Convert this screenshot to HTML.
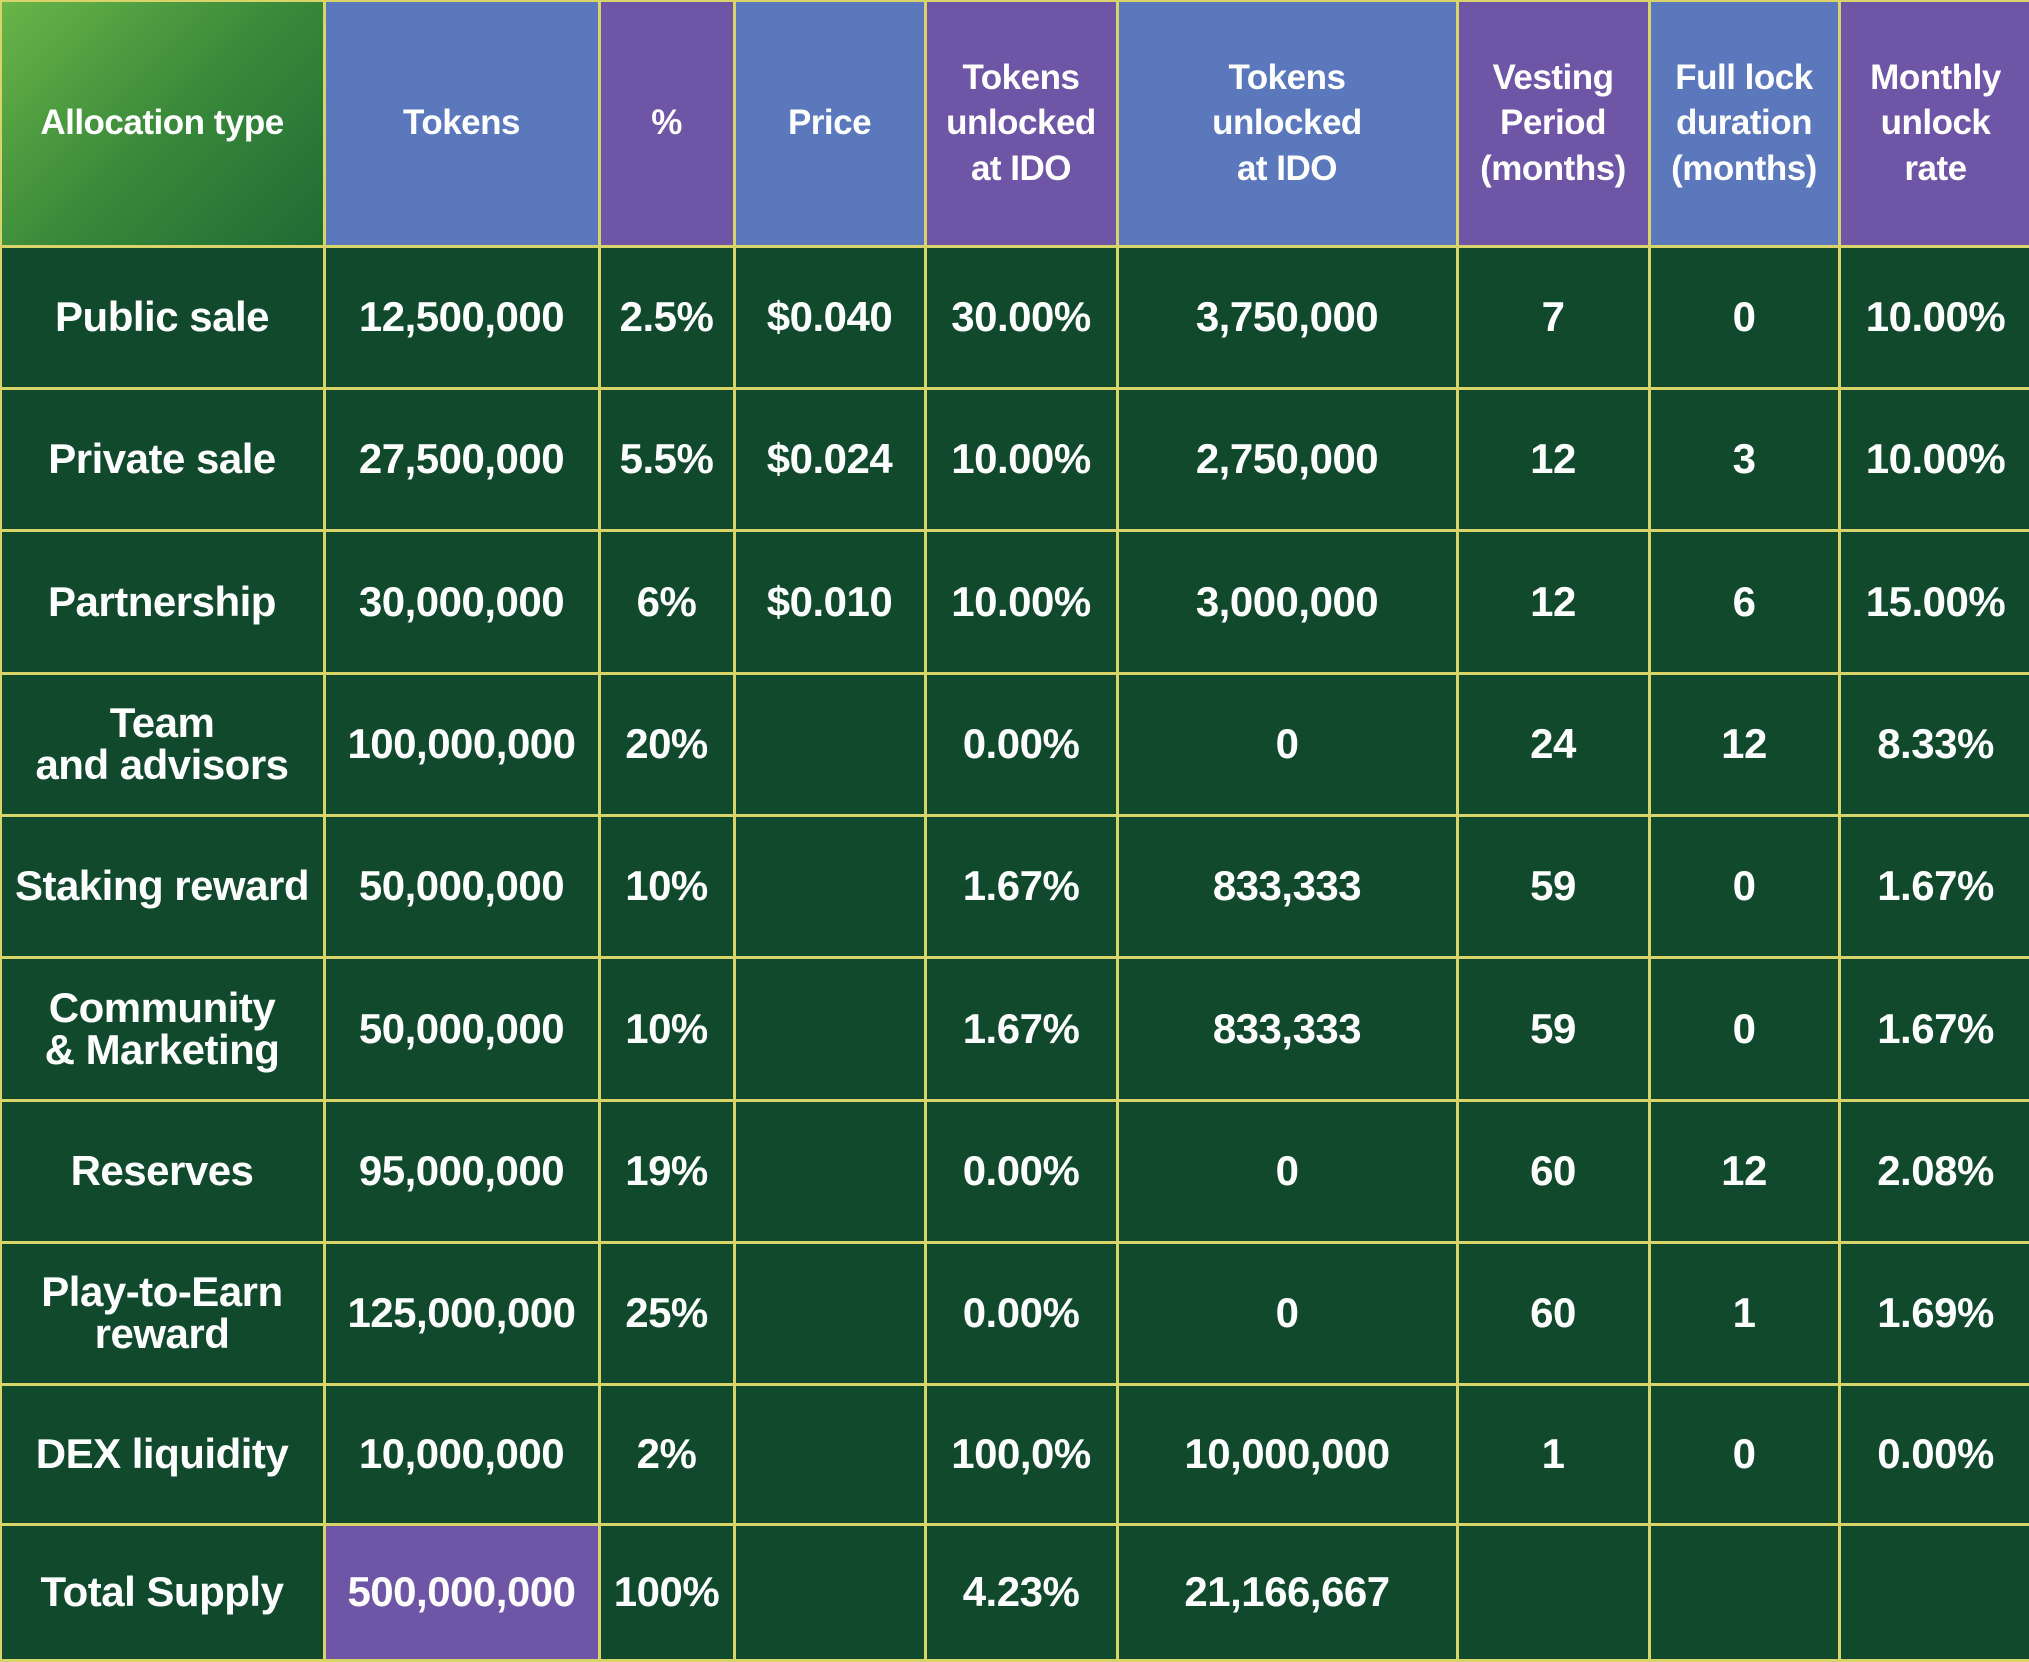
<!DOCTYPE html>
<html><head><meta charset="utf-8"><style>
html,body{margin:0;padding:0;width:2029px;height:1657px;overflow:hidden;background:#10492d}
.c{position:absolute;box-sizing:border-box;border:3px solid #d8d46a;margin:-1.5px;color:#fff;display:flex;align-items:center;justify-content:center;text-align:center;font-family:"Liberation Sans",sans-serif;font-size:42px;font-weight:bold;letter-spacing:-0.5px;line-height:1}
.h{font-size:35px;line-height:1.3;font-weight:bold}
.b{background:#5b78bd}.p{background:#6f55a6}
.g{background:linear-gradient(135deg,#6ab548 0%,#3a8a3a 50%,#1f6b34 100%)}
.d{background:#11492d}
</style></head><body>
<div id="t"></div>
<script>
var X=[0,324,599,734,925,1117,1457,1649,1839,2032];
var Y=[0,246,388,530,673,815,957,1100,1242,1384,1524,1660];
var hdr=[["Allocation type","g"],["Tokens","b"],["%","p"],["Price","b"],["Tokens<br>unlocked<br>at IDO","p"],["Tokens<br>unlocked<br>at IDO","b"],["Vesting<br>Period<br>(months)","p"],["Full lock<br>duration<br>(months)","b"],["Monthly<br>unlock<br>rate","p"]];
var rows=[
["Public sale","12,500,000","2.5%","$0.040","30.00%","3,750,000","7","0","10.00%"],
["Private sale","27,500,000","5.5%","$0.024","10.00%","2,750,000","12","3","10.00%"],
["Partnership","30,000,000","6%","$0.010","10.00%","3,000,000","12","6","15.00%"],
["Team<br>and advisors","100,000,000","20%","","0.00%","0","24","12","8.33%"],
["Staking reward","50,000,000","10%","","1.67%","833,333","59","0","1.67%"],
["Community<br>&amp; Marketing","50,000,000","10%","","1.67%","833,333","59","0","1.67%"],
["Reserves","95,000,000","19%","","0.00%","0","60","12","2.08%"],
["Play-to-Earn<br>reward","125,000,000","25%","","0.00%","0","60","1","1.69%"],
["DEX liquidity","10,000,000","2%","","100,0%","10,000,000","1","0","0.00%"],
["Total Supply","500,000,000","100%","","4.23%","21,166,667","","",""]];
var h="";
for(var i=0;i<9;i++){h+='<div class="c h '+hdr[i][1]+'" style="left:'+X[i]+'px;top:0px;width:'+(X[i+1]-X[i]+3)+'px;height:'+(Y[1]+3)+'px">'+hdr[i][0]+'</div>';}
for(var r=0;r<10;r++)for(var i=0;i<9;i++){var cl=(r==9&&i==1)?"p":"d";
h+='<div class="c '+cl+'" style="left:'+X[i]+'px;top:'+Y[r+1]+'px;width:'+(X[i+1]-X[i]+3)+'px;height:'+(Y[r+2]-Y[r+1]+3)+'px">'+rows[r][i]+'</div>';}
document.getElementById("t").innerHTML=h;
</script>
</body></html>
